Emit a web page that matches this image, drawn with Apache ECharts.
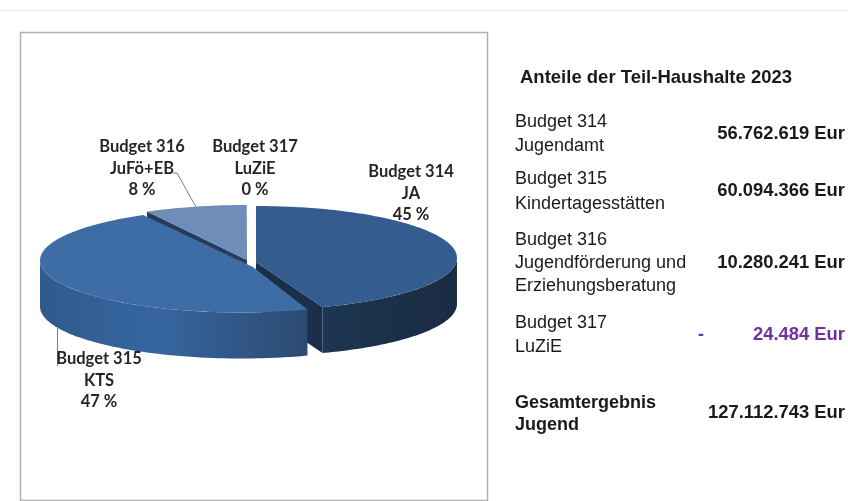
<!DOCTYPE html>
<html>
<head>
<meta charset="utf-8">
<style>
  html, body { margin: 0; padding: 0; background: #fff; }
  #chart { width: 848px; height: 501px; }
</style>
<script src="https://cdn.jsdelivr.net/npm/echarts@6/dist/echarts.min.js"></script>
</head>
<body>
<div id="chart"></div>
<script>
const budgets = ['Budget 314', 'Budget 315', 'Budget 316', 'Budget 317'];
const shortNames = ['JA', 'KTS', 'JuFö+EB', 'LuZiE'];
const longNames = [['Jugendamt'], ['Kindertagesstätten'], ['Jugendförderung und', 'Erziehungsberatung'], ['LuZiE']];
const amounts = [56762619, 60094366, 10280241, 24484];
const amountLabels = ['56.762.619 Eur', '60.094.366 Eur', '10.280.241 Eur', '24.484 Eur'];
const totalLines = ['Gesamtergebnis', 'Jugend'];
const totalLabel = '127.112.743 Eur';
const tableTitle = 'Anteile der Teil-Haushalte 2023';

// look of the tilted pie, one entry per slice
const RY = 52, DEPTH = 46;
const sliceStyle = [
  {cx: 256, cy: 258, rx: 201, apexDx: 0, apexDy: 4, top: '#355c8e', cut: '#1a2f49',
    wall: ['#1c3653', '#1b3049', '#1a2c43']},
  {cx: 241, cy: 260.5, rx: 201, apexDx: 12, apexDy: 6.5, top: '#3e6da5', cut: '#2d4e78',
    wall: ['#2f5a8e', '#36659f', '#2c4a72']},
  {cx: 247, cy: 257, rx: 205, apexDx: 0, apexDy: 3, top: '#6f8db9', cut: '#263c5c',
    wall: ['#4e6c98', '#4e6c98', '#4e6c98']},
  {cx: 251, cy: 257, rx: 205, apexDx: 0, apexDy: 0, top: '#ffffff', cut: '#ffffff',
    wall: ['#ffffff', '#ffffff', '#ffffff']}
];
const labelPos = [[411, 172], [99, 359], [142, 147], [255, 147]];
const drawOrder = [3, 2, 0, 1];

const total = amounts.reduce((a, b) => a + b, 0);

function rimPoint(s, deg) {
  const r = deg * Math.PI / 180;
  return [s.cx + s.rx * Math.sin(r), s.cy - RY * Math.cos(r)];
}

function arcPoints(s, from, to) {
  const pts = [];
  const n = Math.max(2, Math.ceil(Math.abs(to - from)));
  for (let i = 0; i <= n; i++) {
    pts.push(rimPoint(s, from + (to - from) * i / n));
  }
  return pts;
}

function renderSlice(params, api) {
  const i = drawOrder[params.dataIndex];
  const s = sliceStyle[i];
  let start = 0;
  for (let k = 0; k < i; k++) start += amounts[k];
  const from = start / total * 360;
  const to = (start + amounts[i]) / total * 360;
  const apex = [s.cx + s.apexDx, s.cy + s.apexDy];
  const children = [];

  // cut faces the viewer only on the edges that point down and to the left
  const cutAngle = to < 180 ? to : (from > 180 ? from : null);
  if (cutAngle !== null) {
    const end = rimPoint(s, cutAngle);
    children.push({
      type: 'polygon',
      shape: {points: [apex, end, [end[0], end[1] + DEPTH], [apex[0], apex[1] + DEPTH]]},
      style: {fill: s.cut}
    });
  }

  // outer wall, only the part of the rim that faces the viewer
  const wallFrom = Math.max(from, 90);
  const wallTo = Math.min(to, 270);
  if (wallTo > wallFrom) {
    const front = arcPoints(s, wallFrom, wallTo);
    const lower = front.map(p => [p[0], p[1] + DEPTH]).reverse();
    children.push({
      type: 'polygon',
      shape: {points: front.concat(lower)},
      style: {
        fill: new echarts.graphic.LinearGradient(0, 0, 1, 0, [
          {offset: 0, color: s.wall[0]},
          {offset: 0.45, color: s.wall[1]},
          {offset: 1, color: s.wall[2]}
        ])
      }
    });
  }

  children.push({
    type: 'polygon',
    shape: {points: [apex].concat(arcPoints(s, from, to))},
    style: {fill: s.top}
  });
  return {type: 'group', children: children};
}

const graphics = [];

function addText(x, y, text, font, fill, align) {
  graphics.push({
    type: 'text',
    x: x,
    y: y,
    style: {text: text, font: font, fill: fill || '#1a1a1a', align: align || 'left', verticalAlign: 'middle'}
  });
}

const ARIAL = '18px "Liberation Sans"';
const ARIAL_BOLD = 'bold 18px "Liberation Sans"';
const VALUE_BOLD = 'bold 18.4px "Liberation Sans"';
const LATO_BOLD = 'bold 16.5px Lato';

// page rule and chart frame
graphics.push({type: 'line', shape: {x1: 0, y1: 10.5, x2: 848, y2: 10.5}, style: {stroke: '#e6e6e6', lineWidth: 1}});
graphics.push({type: 'rect', shape: {x: 20.5, y: 32.5, width: 467, height: 468}, style: {fill: '#fff', stroke: '#b0b0b0', lineWidth: 1.5}});

// leader lines
graphics.push({type: 'polyline', z: 5, shape: {points: [[173, 173], [177, 173], [196, 207]]}, style: {fill: 'none', stroke: '#7f7f7f', lineWidth: 1}});
graphics.push({type: 'polyline', z: 5, shape: {points: [[57.5, 327], [57.5, 366]]}, style: {fill: 'none', stroke: '#7f7f7f', lineWidth: 1}});

// table next to the pie
addText(520, 78, tableTitle, 'bold 18.5px "Liberation Sans"');
const rowY = [[122, 146], [179, 204], [240, 263, 286], [323, 347]];
const amountY = [134, 191, 263, 335];
budgets.forEach((b, i) => {
  addText(515, rowY[i][0], b, ARIAL);
  longNames[i].forEach((line, k) => addText(515, rowY[i][k + 1], line, ARIAL));
  addText(845, amountY[i], amountLabels[i], VALUE_BOLD, i === 3 ? '#7030a0' : '#1a1a1a', 'right');
});
addText(701, 335, '-', ARIAL_BOLD, '#7030a0', 'center');
addText(515, 403, totalLines[0], ARIAL_BOLD);
addText(515, 425, totalLines[1], ARIAL_BOLD);
addText(845, 413, totalLabel, VALUE_BOLD, '#1a1a1a', 'right');

const chart = echarts.init(document.getElementById('chart'), null, {renderer: 'canvas'});

// slice labels go on top of the pie
budgets.forEach((b, i) => {
  const pct = Math.round(amounts[i] / total * 100);
  const p = labelPos[i];
  [b, shortNames[i], pct + ' %'].forEach((line, k) => {
    graphics.push({
      type: 'text',
      z: 10,
      x: p[0],
      y: p[1] + k * 21.5,
      style: {text: line, font: LATO_BOLD, fill: '#262626', align: 'center', verticalAlign: 'middle'}
    });
  });
});

chart.setOption({
  animation: false,
  backgroundColor: '#fff',
  graphic: {elements: graphics},
  series: [{
    type: 'custom',
    coordinateSystem: 'none',
    z: 3,
    silent: true,
    renderItem: renderSlice,
    data: drawOrder.map(i => amounts[i])
  }]
});
</script>
</body>
</html>
